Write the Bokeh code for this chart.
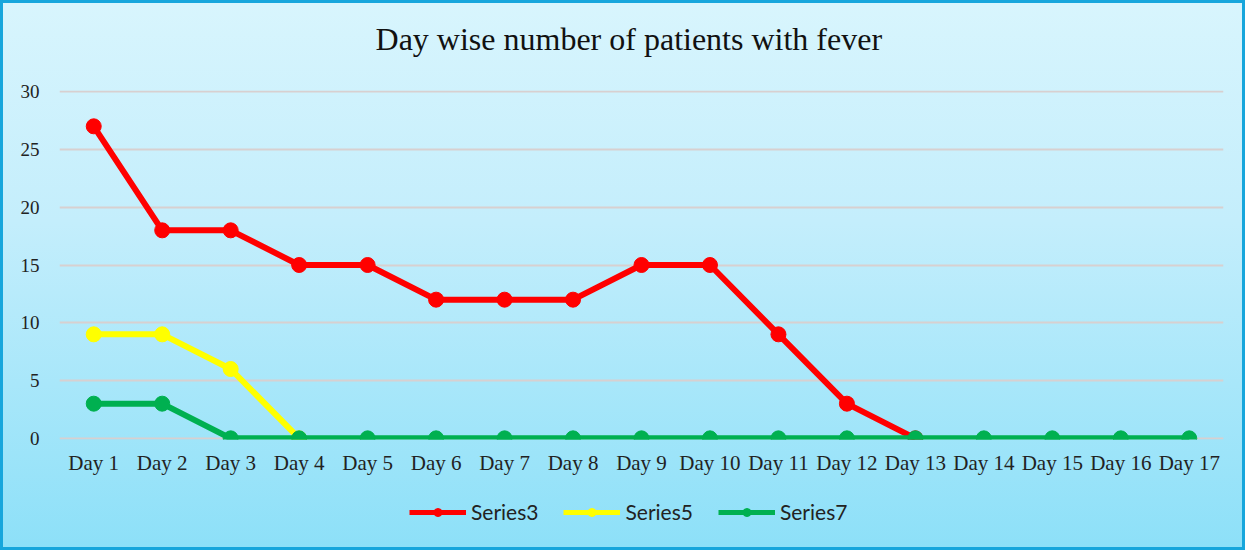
from bokeh.plotting import figure
from bokeh.layouts import column
from bokeh.models import FactorRange, Range1d, Legend, LegendItem, Label
from bokeh.embed import file_html
from bokeh.resources import INLINE

days = ["Day %d" % i for i in range(1, 18)]
series3 = [27, 18, 18, 15, 15, 12, 12, 12, 15, 15, 9, 3, 0]
series5 = [9, 9, 6, 0]
series7 = [3, 3, 0, 0, 0, 0, 0, 0, 0, 0, 0, 0, 0, 0, 0, 0, 0]
names = ["Series3", "Series5", "Series7"]
colors = ["#ff0000", "#ffff00", "#00b050"]
y_ticks = [0, 5, 10, 15, 20, 25, 30]
title_text = "Day wise number of patients with fever"

SERIF = "Liberation Serif"
W = 1239

# title strip
tf = figure(x_range=Range1d(0, W), y_range=Range1d(0, 74), width=W, height=74,
            output_backend="svg", toolbar_location=None, min_border=0)
tf.background_fill_alpha = 0
tf.border_fill_alpha = 0
tf.outline_line_color = None
tf.axis.visible = False
tf.grid.visible = False
tf.add_layout(Label(x=606, y=39, text=title_text, text_align="center",
                    text_baseline="alphabetic", text_font=SERIF,
                    text_font_size="32px", text_color="#111111"))

# main chart
p = figure(x_range=FactorRange(*days, range_padding=0), y_range=Range1d(-0.1, 30.1),
           width=W, height=406, output_backend="svg", toolbar_location=None,
           min_border_left=56, min_border_right=19, min_border_top=13, min_border_bottom=44)
p.background_fill_alpha = 0
p.border_fill_alpha = 0
p.outline_line_color = None

p.yaxis.ticker = y_ticks
p.yaxis.axis_line_color = None
p.yaxis.major_tick_line_color = None
p.yaxis.minor_tick_line_color = None
p.yaxis.major_label_text_font = SERIF
p.yaxis.major_label_text_font_size = "19px"
p.yaxis.major_label_text_color = "#222222"
p.yaxis.major_label_standoff = 14

p.xaxis.axis_line_color = None
p.xaxis.major_tick_line_color = None
p.xaxis.minor_tick_line_color = None
p.xaxis.major_label_text_font = SERIF
p.xaxis.major_label_text_font_size = "21px"
p.xaxis.major_label_text_color = "#222222"
p.xaxis.major_label_standoff = 5

p.xgrid.grid_line_color = None
p.ygrid.grid_line_color = "#d8d0d0"
p.ygrid.grid_line_width = 2

# legend strip below the chart (same series, drawn outside its visible range)
lf = figure(x_range=p.x_range, y_range=Range1d(1000, 1001),
            width=W, height=64, output_backend="svg", toolbar_location=None,
            min_border=0)
lf.background_fill_alpha = 0
lf.border_fill_alpha = 0
lf.outline_line_color = None
lf.axis.visible = False
lf.grid.visible = False

items = []
for name, vals, color in zip(names, [series3, series5, series7], colors):
    xs = days[:len(vals)]
    p.line(xs, vals, line_color=color, line_width=6)
    p.scatter(xs, vals, size=15, fill_color=color, line_color=color)
    l = lf.line(xs, vals, line_color=color, line_width=5)
    c = lf.scatter(xs, vals, size=13, fill_color=color, line_color=color)
    items.append(LegendItem(label=name, renderers=[l, c]))

legend = Legend(items=items, orientation="horizontal", location=(350, 23),
                background_fill_alpha=0, border_line_color=None,
                label_text_font="Lato", label_text_font_size="21px",
                label_text_color="#222222", glyph_width=57, glyph_height=20,
                spacing=25, label_standoff=5, margin=0, padding=0)
lf.add_layout(legend, "center")

layout = column(tf, p, lf, spacing=0,
                styles={"background": "linear-gradient(to bottom, #d8f5fd 0%, #c4eefc 40%, #8de0f8 100%)",
                        "border": "3px solid #17a6dc"})

open("out.html", "w").write(file_html(layout, INLINE))
